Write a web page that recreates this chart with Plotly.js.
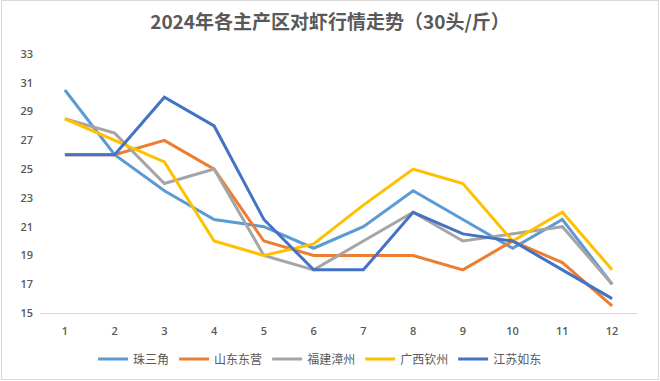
<!DOCTYPE html>
<html>
<head>
<meta charset="utf-8">
<script src="https://cdn.plot.ly/plotly-3.0.1.min.js"></script>
<style>
html,body{margin:0;padding:0;background:#fff;}
#wrap{position:relative;width:660px;height:381px;}
#chart{width:660px;height:381px;}
#frame{position:absolute;left:1px;top:0px;width:656px;height:378px;border:1px solid #d9d9d9;pointer-events:none;}
</style>
</head>
<body>
<div id="wrap"><div id="chart"></div><div id="frame"></div></div>
<script>
const months = [1,2,3,4,5,6,7,8,9,10,11,12];
const zhuSanJiao   = [30.5,26,23.5,21.5,21,19.5,21,23.5,21.5,19.5,21.5,17];
const shanDongDY   = [26,26,27,25,20,19,19,19,18,20,18.5,15.5];
const fuJianZZ     = [28.5,27.5,24,25,19,18,20,22,20,20.5,21,17];
const guangXiQZ    = [28.5,27,25.5,20,19,19.8,22.5,25,24,20,22,18];
const jiangSuRD    = [26,26,30,28,21.5,18,18,22,20.5,20,18,16];
const seriesNames  = ['珠三角','山东东营','福建漳州','广西钦州','江苏如东'];
const seriesData   = [zhuSanJiao, shanDongDY, fuJianZZ, guangXiQZ, jiangSuRD];
const colors = ['#5B9BD5','#ED7D31','#A5A5A5','#FFC000','#4472C4'];
const yTicks = [15,17,19,21,23,25,27,29,31,33];

const traces = seriesData.map((d,i)=>({
  type:'scatter', mode:'lines', x:months, y:d, name:seriesNames[i],
  line:{color:colors[i], width:3}
}));

const layout = {
  width:660, height:381,
  margin:{l:40, r:23, t:54, b:68},
  paper_bgcolor:'#fff', plot_bgcolor:'#fff',
  title:{text:'2024年各主产区对虾行情走势（30头/斤）', x:0.5, xanchor:'center', y:0.942, yanchor:'middle',
    font:{family:'"Noto Sans CJK SC", "Open Sans", sans-serif', size:19, color:'#595959', weight:'bold'}},
  xaxis:{range:[0.5,12.5], tickvals:months, ticktext:months.map(String), showgrid:false, zeroline:false,
    showline:true, linecolor:'#d9d9d9', linewidth:1, ticks:'', fixedrange:true, automargin:false,
    ticklabelstandoff:8,
    tickfont:{family:'"Open Sans", sans-serif', size:11, color:'#595959', weight:600}},
  yaxis:{range:[15,33], tickvals:yTicks, showgrid:false, zeroline:false, showline:false, ticks:'', automargin:false,
    ticklabelstandoff:6,
    tickfont:{family:'"Open Sans", sans-serif', size:11, color:'#595959', weight:600}},
  showlegend:true,
  legend:{orientation:'h', x:0.485, xanchor:'center', xref:'container', yref:'container', y:0.058, yanchor:'middle',
    font:{family:'"Noto Sans CJK SC", sans-serif', size:12, color:'#595959'}, itemwidth:30, tracegroupgap:0}
};
Plotly.newPlot('chart', traces, layout, {displayModeBar:false, staticPlot:true});
</script>
</body>
</html>
